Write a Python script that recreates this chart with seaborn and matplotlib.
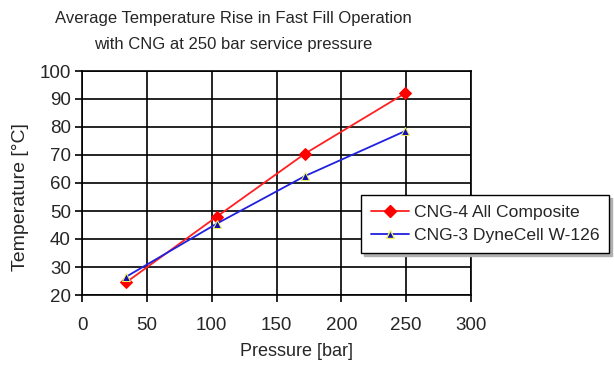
import matplotlib
matplotlib.use("Agg")
import matplotlib.pyplot as plt
import seaborn as sns
import pandas as pd
from matplotlib.lines import Line2D

pressure = [34, 104, 172, 249]
temp_cng4 = [24.5, 48.0, 70.5, 92.0]
temp_cng3 = [26.5, 45.5, 62.5, 78.5]
series_names = ["CNG-4 All Composite", "CNG-3 DyneCell W-126"]
x_ticks = [0, 50, 100, 150, 200, 250, 300]
y_ticks = [20, 30, 40, 50, 60, 70, 80, 90, 100]
title_lines = ["Average Temperature Rise in Fast Fill Operation",
               "with CNG at 250 bar service pressure"]

df = pd.DataFrame({
    "Pressure": pressure * 2,
    "Temperature": temp_cng4 + temp_cng3,
    "Series": [series_names[0]] * len(pressure) + [series_names[1]] * len(pressure),
})

sns.set_style("white")
plt.rcParams["font.family"] = ["Liberation Sans", "DejaVu Sans"]

W, H = 614, 370
fig = plt.figure(figsize=(W / 100, H / 100), dpi=100)
ax = fig.add_axes([82 / W, 1 - 295 / H, (471 - 82) / W, (295 - 71) / H])

red_line, blue_line = "#ff2020", "#2020e0"
sns.lineplot(data=df, x="Pressure", y="Temperature", hue="Series", style="Series",
             palette={series_names[0]: red_line, series_names[1]: blue_line},
             markers={series_names[0]: "D", series_names[1]: "^"},
             dashes=False, ax=ax, linewidth=1.3, markersize=6, legend=False)

lines = ax.get_lines()
lines[0].set_markerfacecolor("#ff0000")
lines[0].set_markeredgecolor("#ff0000")
lines[1].set_markerfacecolor("#1010b0")
lines[1].set_markeredgecolor("#f0f060")

ax.set_xlim(0, 300)
ax.set_ylim(20, 100)
ax.set_xticks(x_ticks)
ax.set_yticks(y_ticks)
ax.grid(True, color="black", linewidth=1.2)
for s in ax.spines.values():
    s.set_color("black")
    s.set_linewidth(1.2)
ax.tick_params(axis="both", direction="out", length=5, width=1.2, color="black",
               labelsize=13.5, left=True, bottom=True)
ax.tick_params(axis="x", pad=11)
ax.tick_params(axis="y", pad=3)
ax.set_xlabel("Pressure [bar]", fontsize=13)
ax.xaxis.set_label_coords((296 - 82) / (471 - 82), -(352 - 295) / (295 - 71), transform=ax.transAxes)
ax.xaxis.label.set_va("center")
ax.set_ylabel("Temperature [°C]", fontsize=14)
ax.yaxis.set_label_coords(-(82 - 20) / (471 - 82), (295 - 197) / (295 - 71), transform=ax.transAxes)
ax.yaxis.label.set_va("center")

fig.text(233 / W, 1 - 18 / H, title_lines[0], ha="center", va="center", fontsize=12)
fig.text(233 / W, 1 - 45 / H, title_lines[1], ha="center", va="center", fontsize=12)

handles = [
    Line2D([], [], color=red_line, marker="D", markerfacecolor="#ff0000",
           markeredgecolor="#ff0000", markersize=6, linewidth=1.3),
    Line2D([], [], color=blue_line, marker="^", markerfacecolor="#1010b0",
           markeredgecolor="#f0f060", markersize=6, linewidth=1.3),
]
leg = fig.legend(handles, series_names, loc="lower left",
                 bbox_to_anchor=(361 / W, 1 - 253 / H), borderaxespad=0,
                 frameon=True, fancybox=False,
                 shadow={"color": "#b0b0b0", "alpha": 1.0}, fontsize=12.6,
                 handlelength=2.2, borderpad=0.55,
                 labelspacing=0.45, handletextpad=0.25, edgecolor="black")
leg.get_frame().set_linewidth(1.0)

fig.savefig("out.png", dpi=100)
